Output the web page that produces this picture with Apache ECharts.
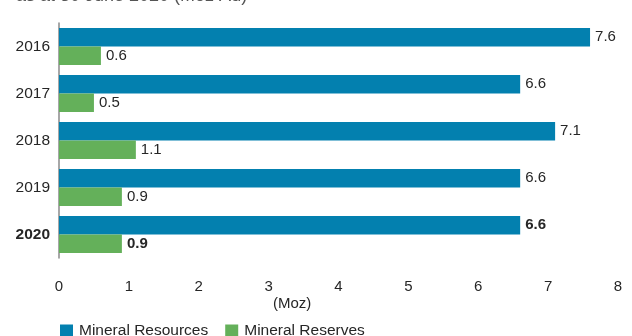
<!DOCTYPE html>
<html>
<head>
<meta charset="utf-8">
<script src="https://cdn.jsdelivr.net/npm/echarts@6/dist/echarts.min.js"></script>
<style>
  html, body { margin: 0; padding: 0; background: #ffffff; }
  #chart { width: 632px; height: 336px; }
</style>
</head>
<body>
<div id="chart"></div>
<script>
// Gold inventory by year, in million ounces
const years = ['2016', '2017', '2018', '2019', '2020'];
const mineralResources = [7.6, 6.6, 7.1, 6.6, 6.6];
const mineralReserves = [0.6, 0.5, 1.1, 0.9, 0.9];
const xTicks = [0, 1, 2, 3, 4, 5, 6, 7, 8];

const FONT = '"Liberation Sans", Arial, Helvetica, sans-serif';
const TEXT = '#262626';
const BLUE = '#0380AF';
const GREEN = '#64B05A';
const latest = years.length - 1;

// The current year is set in bold
function withEmphasis(values) {
  return values.map((v, i) => i === latest
    ? { value: v, label: { fontWeight: 'bold' } }
    : v);
}

const chart = echarts.init(document.getElementById('chart'), null, { renderer: 'canvas' });

chart.setOption({
  animation: false,
  textStyle: { fontFamily: FONT },
  title: {
    text: 'as at 30 June 2020 (Moz Au)',
    left: 11,
    top: -18,
    textStyle: { fontFamily: FONT, fontSize: 18, fontWeight: 'normal', color: '#555555' }
  },
  grid: { left: 59, right: 14, top: 23, bottom: 78, containLabel: false },
  xAxis: {
    type: 'value',
    min: xTicks[0],
    max: xTicks[xTicks.length - 1],
    interval: 1,
    axisLine: { show: false },
    axisTick: { show: false },
    splitLine: { show: false },
    axisLabel: { fontSize: 15, color: TEXT, margin: 21, fontFamily: FONT }
  },
  yAxis: {
    type: 'category',
    data: years,
    inverse: true,
    axisLine: { show: true, lineStyle: { color: '#8a8a8a', width: 1.5 } },
    axisTick: { show: false },
    axisLabel: {
      fontSize: 15.5,
      color: TEXT,
      margin: 9,
      fontFamily: FONT,
      formatter: (v, i) => i === latest ? '{b|' + v + '}' : v,
      rich: { b: { fontSize: 15.5, fontWeight: 'bold', color: TEXT, fontFamily: FONT } }
    }
  },
  legend: {
    data: ['Mineral Resources', 'Mineral Reserves'],
    left: 55,
    top: 318,
    itemWidth: 13,
    itemHeight: 13,
    itemGap: 17,
    icon: 'rect',
    textStyle: { fontSize: 15.5, color: TEXT, fontFamily: FONT, padding: [0, 0, 0, 1] }
  },
  graphic: [{
    type: 'text',
    left: 273,
    top: 296,
    style: { text: '(Moz)', fontSize: 15, fill: TEXT, fontFamily: FONT }
  }],
  series: [
    {
      name: 'Mineral Resources',
      type: 'bar',
      data: withEmphasis(mineralResources),
      barGap: '0%',
      barCategoryGap: '21%',
      itemStyle: { color: BLUE },
      label: { show: true, position: 'right', distance: 5, fontSize: 15, color: TEXT, fontFamily: FONT }
    },
    {
      name: 'Mineral Reserves',
      type: 'bar',
      data: withEmphasis(mineralReserves),
      barGap: '0%',
      barCategoryGap: '21%',
      itemStyle: { color: GREEN },
      label: { show: true, position: 'right', distance: 5, fontSize: 15, color: TEXT, fontFamily: FONT }
    }
  ]
});
</script>
</body>
</html>
